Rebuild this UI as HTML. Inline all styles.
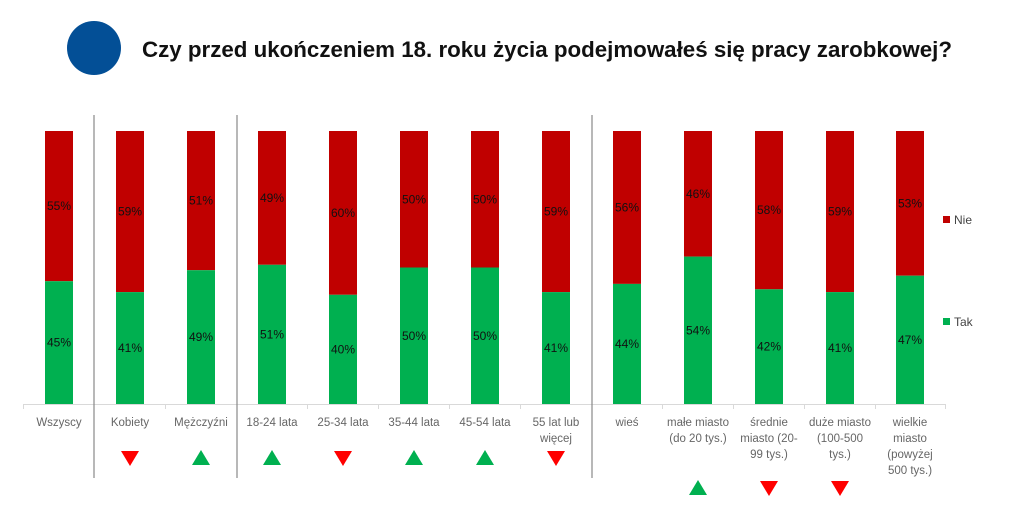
<!DOCTYPE html>
<html><head><meta charset="utf-8"><style>
html,body{margin:0;padding:0;background:#fff;}
svg{display:block;}
</style></head><body>
<svg width="1024" height="517" xmlns="http://www.w3.org/2000/svg" font-family="Liberation Sans, sans-serif">
<circle cx="94" cy="48" r="27" fill="#034F96"/>
<text x="142" y="57" font-size="22" font-weight="bold" fill="#111" textLength="810" lengthAdjust="spacingAndGlyphs">Czy przed ukończeniem 18. roku życia podejmowałeś się pracy zarobkowej?</text>
<g stroke="#d9d9d9" stroke-width="1">
<line x1="23" y1="404.5" x2="946" y2="404.5"/>
<line x1="23.5" y1="404" x2="23.5" y2="409"/>
<line x1="165.5" y1="404" x2="165.5" y2="409"/>
<line x1="307.5" y1="404" x2="307.5" y2="409"/>
<line x1="378.5" y1="404" x2="378.5" y2="409"/>
<line x1="449.5" y1="404" x2="449.5" y2="409"/>
<line x1="520.5" y1="404" x2="520.5" y2="409"/>
<line x1="662.5" y1="404" x2="662.5" y2="409"/>
<line x1="733.5" y1="404" x2="733.5" y2="409"/>
<line x1="804.5" y1="404" x2="804.5" y2="409"/>
<line x1="875.5" y1="404" x2="875.5" y2="409"/>
<line x1="945.5" y1="404" x2="945.5" y2="409"/>
</g>
<g stroke="#888" stroke-width="1.2">
<line x1="94" y1="115" x2="94" y2="478"/>
<line x1="237" y1="115" x2="237" y2="478"/>
<line x1="592" y1="115" x2="592" y2="478"/>
</g>
<g>
<rect x="45" y="131" width="28" height="150.2" fill="#C00000"/><rect x="45" y="281.2" width="28" height="122.8" fill="#00B050"/>
<rect x="116" y="131" width="28" height="161.1" fill="#C00000"/><rect x="116" y="292.1" width="28" height="111.9" fill="#00B050"/>
<rect x="187" y="131" width="28" height="139.2" fill="#C00000"/><rect x="187" y="270.2" width="28" height="133.8" fill="#00B050"/>
<rect x="258" y="131" width="28" height="133.8" fill="#C00000"/><rect x="258" y="264.8" width="28" height="139.2" fill="#00B050"/>
<rect x="329" y="131" width="28" height="163.8" fill="#C00000"/><rect x="329" y="294.8" width="28" height="109.2" fill="#00B050"/>
<rect x="400" y="131" width="28" height="136.5" fill="#C00000"/><rect x="400" y="267.5" width="28" height="136.5" fill="#00B050"/>
<rect x="471" y="131" width="28" height="136.5" fill="#C00000"/><rect x="471" y="267.5" width="28" height="136.5" fill="#00B050"/>
<rect x="542" y="131" width="28" height="161.1" fill="#C00000"/><rect x="542" y="292.1" width="28" height="111.9" fill="#00B050"/>
<rect x="613" y="131" width="28" height="152.9" fill="#C00000"/><rect x="613" y="283.9" width="28" height="120.1" fill="#00B050"/>
<rect x="684" y="131" width="28" height="125.6" fill="#C00000"/><rect x="684" y="256.6" width="28" height="147.4" fill="#00B050"/>
<rect x="755" y="131" width="28" height="158.3" fill="#C00000"/><rect x="755" y="289.3" width="28" height="114.7" fill="#00B050"/>
<rect x="826" y="131" width="28" height="161.1" fill="#C00000"/><rect x="826" y="292.1" width="28" height="111.9" fill="#00B050"/>
<rect x="896" y="131" width="28" height="144.7" fill="#C00000"/><rect x="896" y="275.7" width="28" height="128.3" fill="#00B050"/>
</g>
<g font-size="12" text-anchor="middle" fill="#111">
<text x="59" y="210.1">55%</text><text x="59" y="346.6">45%</text>
<text x="130" y="215.6">59%</text><text x="130" y="352.1">41%</text>
<text x="201" y="204.6">51%</text><text x="201" y="341.1">49%</text>
<text x="272" y="201.9">49%</text><text x="272" y="338.4">51%</text>
<text x="343" y="217">60%</text><text x="343" y="353.4">40%</text>
<text x="414" y="203.3">50%</text><text x="414" y="339.8">50%</text>
<text x="485" y="203.3">50%</text><text x="485" y="339.8">50%</text>
<text x="556" y="215.6">59%</text><text x="556" y="352.1">41%</text>
<text x="627" y="211.4">56%</text><text x="627" y="348">44%</text>
<text x="698" y="197.8">46%</text><text x="698" y="334.3">54%</text>
<text x="769" y="214.2">58%</text><text x="769" y="350.7">42%</text>
<text x="840" y="215.6">59%</text><text x="840" y="352.1">41%</text>
<text x="910" y="207.4">53%</text><text x="910" y="343.9">47%</text>
</g>
<g font-size="11.5" text-anchor="middle" fill="#666">
<text x="59" y="426">Wszyscy</text>
<text x="130" y="426">Kobiety</text>
<text x="201" y="426">Mężczyźni</text>
<text x="272" y="426">18-24 lata</text>
<text x="343" y="426">25-34 lata</text>
<text x="414" y="426">35-44 lata</text>
<text x="485" y="426">45-54 lata</text>
<text x="556" y="426">55 lat lub</text><text x="556" y="442">więcej</text>
<text x="627" y="426">wieś</text>
<text x="698" y="426">małe miasto</text><text x="698" y="442">(do 20 tys.)</text>
<text x="769" y="426">średnie</text><text x="769" y="442">miasto (20-</text><text x="769" y="458">99 tys.)</text>
<text x="840" y="426">duże miasto</text><text x="840" y="442">(100-500</text><text x="840" y="458">tys.)</text>
<text x="910" y="426">wielkie</text><text x="910" y="442">miasto</text><text x="910" y="458">(powyżej</text><text x="910" y="474">500 tys.)</text>
</g>
<g>
<polygon points="121,451 139,451 130,466" fill="#FF0000"/>
<polygon points="192,465 210,465 201,450" fill="#00B050"/>
<polygon points="263,465 281,465 272,450" fill="#00B050"/>
<polygon points="334,451 352,451 343,466" fill="#FF0000"/>
<polygon points="405,465 423,465 414,450" fill="#00B050"/>
<polygon points="476,465 494,465 485,450" fill="#00B050"/>
<polygon points="547,451 565,451 556,466" fill="#FF0000"/>
<polygon points="689,495 707,495 698,480" fill="#00B050"/>
<polygon points="760,481 778,481 769,496" fill="#FF0000"/>
<polygon points="831,481 849,481 840,496" fill="#FF0000"/>
</g>
<rect x="943" y="216" width="7" height="7" fill="#C00000"/><text x="954" y="224" font-size="12" fill="#444">Nie</text>
<rect x="943" y="318" width="7" height="7" fill="#00B050"/><text x="954" y="326" font-size="12" fill="#444">Tak</text>
</svg>
</body></html>
